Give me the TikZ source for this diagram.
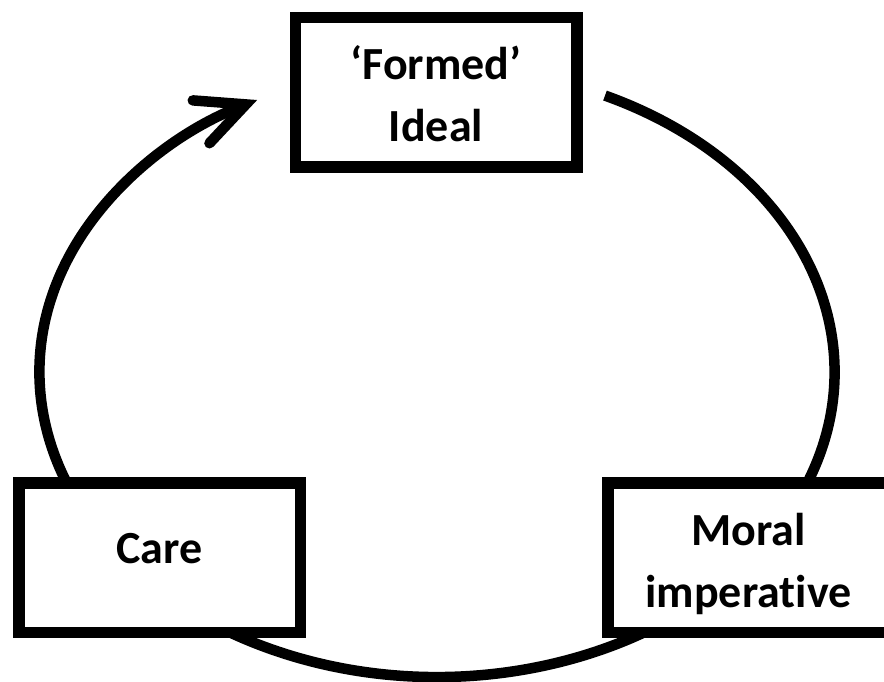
\documentclass[tikz,border=0pt]{standalone}
\usepackage{fontspec}
\setmainfont{Carlito}[Ligatures=NoCommon]
\usetikzlibrary{arrows.meta}
\begin{document}
\begin{tikzpicture}[x=1pt,y=1pt,
  stage/.style={draw=black, line width=11.5pt, fill=white,
    minimum width=281.5pt, minimum height=149.5pt, inner sep=0pt,
    align=center, font=\fontsize{46}{62}\selectfont\bfseries},
  twoline/.style={text height=99pt, text depth=0pt},
  oneline/.style={text height=20pt, text depth=9pt},
  cycle/.style={line width=10.5pt, line cap=butt}]
\useasboundingbox (0,0) rectangle (884,681);

% the cycle: one elliptical arc running clockwise, ending in an open arrow
\coordinate (c) at (437,309);
\coordinate (start) at ([shift={(65:397.5 and 305)}]c);
\draw[cycle, -{Straight Barb[length=48pt, width=46pt, line cap=round, line join=miter]}]
  (start) arc[start angle=65, end angle=-243.1, x radius=397.5, y radius=305];

% the three stages
\node[stage, twoline] (ideal) at (436,588.5) {‘Formed’\\Ideal};
\node[stage, oneline] (care) at (159.5,123.5) {Care};
\node[stage, twoline] (moral) at (748.5,123.5) {Moral\\imperative};
\end{tikzpicture}
\end{document}
